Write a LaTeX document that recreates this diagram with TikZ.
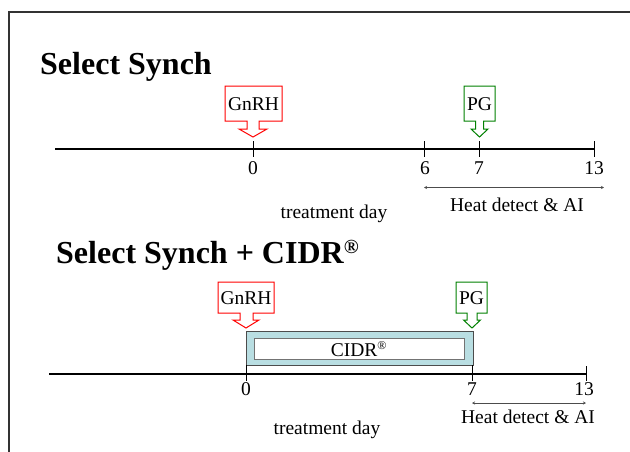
\documentclass[tikz,border=0pt]{standalone}
\usepackage{fontspec}
\setmainfont{Liberation Serif}
\usetikzlibrary{arrows.meta}
\begin{document}
\begin{tikzpicture}[x=1pt,y=-1pt,
  lbl/.style={inner sep=0pt,font=\fontsize{19.5}{20}\selectfont},
  ttl/.style={inner sep=0pt,anchor=base west,font=\fontsize{32}{34}\bfseries\selectfont},
  axis/.style={line width=2pt,black},
  tick/.style={line width=1pt,black},
  hd/.style={line width=1pt,black!70,{Stealth[length=3pt,width=3pt]}-{Stealth[length=3pt,width=3pt]}},
  red call/.style={draw=red,line width=1pt,fill=white},
  grn call/.style={draw=green!50!black,line width=1pt,fill=white}]
\useasboundingbox (0,0) rectangle (630,451);
\fill[white] (0,0) rectangle (630,451);
\draw[line width=2pt,black!80] (9,452) -- (9,12) -- (631,12);

% ---------- Select Synch ----------
\node[ttl] (t1) at (40,74) {Select Synch};
\draw[axis] (55,149) -- (594,149);
\foreach \x/\n in {253/a0,424/a6,479/a7,594/a13}
  \draw[tick] (\x,141) -- (\x,157);
\node[lbl] (n0) at (253,168) {0};
\node[lbl] (n6) at (425,168) {6};
\node[lbl] (n7) at (479,168) {7};
\node[lbl] (n13) at (594,168) {13};
\coordinate (h1a) at (424,187.5);
\coordinate (h1b) at (604,187.5);
\draw[hd] (h1a) -- (h1b);
\node[lbl] (hd1) at (517,205) {Heat detect \& AI};
\node[lbl] (td1) at (334,214) {treatment day};

\draw[red call] (225,86) -- (282,86) -- (282,121) -- (259,121) -- (259,129) -- (267,129)
  -- (253,137) -- (239,129) -- (247,129) -- (247,121) -- (225,121) -- cycle;
\node[lbl] (g1) at (253.5,104) {GnRH};
\draw[grn call] (464,86) -- (495,86) -- (495,121) -- (483.5,121) -- (483.5,129) -- (488,129)
  -- (479.5,137) -- (471,129) -- (475.5,129) -- (475.5,121) -- (464,121) -- cycle;
\node[lbl] (p1) at (479.5,104) {PG};

% ---------- Select Synch + CIDR ----------
\node[ttl] (t2) at (56,263) {Select Synch + CIDR\textsuperscript{\fontsize{20}{20}\selectfont\textregistered}};
\draw[fill={rgb,255:red,185;green,222;blue,226},draw=black!70,line width=1pt] (246,331) rectangle (473,365);
\draw[fill=white,draw=black!55,line width=1pt] (254,338) rectangle (464,359);
\node[lbl] (cidr) at (359,349) {CIDR\textsuperscript{\fontsize{12}{12}\selectfont\textregistered}};
\draw[axis] (49,374) -- (586,374);
\draw[tick] (246,365) -- (246,381);
\draw[tick] (472.5,365) -- (472.5,381);
\draw[tick] (586,366) -- (586,381);
\node[lbl] (m0) at (246,389) {0};
\node[lbl] (m7) at (472,389) {7};
\node[lbl] (m13) at (584,389) {13};
\coordinate (h2a) at (472,403);
\coordinate (h2b) at (586,403);
\draw[hd] (h2a) -- (h2b);
\node[lbl] (hd2) at (528,417) {Heat detect \& AI};
\node[lbl] (td2) at (327,430) {treatment day};

\draw[red call] (218,282) -- (274,282) -- (274,313) -- (253,313) -- (253,320) -- (259,320)
  -- (246,328) -- (233,320) -- (240,320) -- (240,313) -- (218,313) -- cycle;
\node[lbl] (g2) at (246,298) {GnRH};
\draw[grn call] (456,282) -- (487,282) -- (487,313) -- (477,313) -- (477,320) -- (480.5,320)
  -- (472,328) -- (463.5,320) -- (467,320) -- (467,313) -- (456,313) -- cycle;
\node[lbl] (p2) at (471.5,298) {PG};
\end{tikzpicture}
\end{document}
